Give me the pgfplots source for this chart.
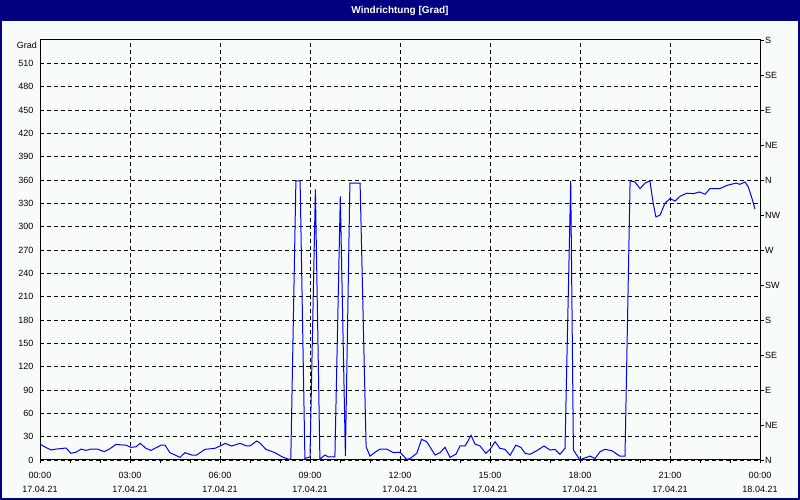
\documentclass[border=0pt]{standalone}
\usepackage{pgfplots}
\pgfplotsset{compat=1.18}
\usepackage{fontspec}
\setmainfont{Liberation Sans}
\definecolor{navy}{HTML}{000080}
\definecolor{bgc}{HTML}{F8FCF8}
\definecolor{lineblue}{HTML}{0000FF}
\begin{document}
\begin{tikzpicture}
\useasboundingbox (0,0) rectangle (800bp,500bp);
\fill[bgc] (0,0) rectangle (800bp,500bp);
\fill[navy] (0,479bp) rectangle (800bp,500bp);
\draw[navy, line width=2bp] (1bp,1bp) rectangle (799bp,499bp);
\node[white, font=\fontsize{10bp}{12bp}\selectfont\bfseries] at (400bp,489.5bp) {Windrichtung [Grad]};
\node[anchor=east, font=\fontsize{9bp}{11bp}\selectfont, inner sep=0pt] at (37bp,455bp) {Grad};
\begin{axis}[
  at={(40bp,40bp)}, anchor=south west,
  scale only axis, width=720bp, height=420bp,
  xmin=0, xmax=24, ymin=0, ymax=540,
  axis line style={black, line width=1bp},
  xtick={0,3,...,24},
  minor xtick={1,2,4,5,7,8,10,11,13,14,16,17,19,20,22,23},
  xticklabels={{00:00\\17.04.21},{03:00\\17.04.21},{06:00\\17.04.21},{09:00\\17.04.21},{12:00\\17.04.21},{15:00\\17.04.21},{18:00\\17.04.21},{21:00\\17.04.21},{00:00\\18.04.21}},
  xticklabel style={align=center, font=\fontsize{9bp}{14bp}\selectfont, yshift=-6bp},
  ytick={0,30,...,510},
  yticklabel style={font=\fontsize{9bp}{11bp}\selectfont},
  /pgf/number format/assume math mode=true,
  xtick pos=bottom, ytick pos=left,
  tick align=outside,
  major tick length=3bp, minor tick length=3bp,
  tick style={black, line width=0.8bp},
  ytick style={draw=none},
  xmajorgrids, ymajorgrids,
  grid style={black, line width=0.8bp, dash pattern=on 4bp off 3bp},
]
\addplot[lineblue, line width=1bp, mark=none] table {
0 20.5
0.2 16
0.37 13
0.53 14
0.87 15.4
1.03 8.6
1.2 10
1.37 14
1.53 12.4
1.7 14
1.92 14
2.14 10.7
2.31 14
2.53 20
2.87 19
3.03 16.3
3.2 17
3.34 21.4
3.53 15
3.7 12.4
4.03 19
4.17 19
4.33 9.4
4.67 3.4
4.83 9.4
5.06 6.4
5.22 6.4
5.5 13.7
5.83 15
6.06 19
6.17 21.4
6.39 18
6.67 21.4
6.89 18
7.0 18
7.22 24.4
7.33 22
7.53 13.7
7.83 9.4
8.06 4.3
8.28 1
8.36 1
8.53 359
8.67 359
8.83 2
9.0 4
9.18 348
9.33 1
9.5 6.4
9.61 4
9.83 4
10.01 339
10.18 5
10.33 356
10.67 356
10.87 17
11.0 5
11.17 10
11.33 14
11.56 14
11.78 9.4
12.0 10
12.22 1
12.33 1.7
12.56 8.6
12.72 26.6
12.89 23.5
13.17 6.4
13.33 9.4
13.5 16.3
13.67 3.4
13.87 7.7
14.0 18
14.17 18
14.37 31.7
14.5 20.5
14.67 18
14.86 8.6
15.0 13.7
15.17 23.5
15.33 15
15.5 13.7
15.67 6
15.86 19
16.03 16.3
16.17 8.6
16.33 7.3
16.56 12
16.8 18
17.0 12.8
17.17 13.7
17.33 7.3
17.5 15
17.69 359
17.78 13
17.89 6.4
18.0 0
18.11 2
18.33 5
18.5 2
18.67 10.7
18.83 13.7
19.06 12
19.33 5
19.5 5
19.67 359
19.83 357.5
20.0 349
20.17 356
20.33 359
20.44 330
20.53 312.5
20.67 315
20.83 330
21.0 336
21.17 333
21.33 339
21.56 343
21.78 342.5
21.98 344.6
22.17 341.7
22.33 349
22.67 349
22.89 353
23.2 356
23.33 354.5
23.5 357.5
23.61 351
23.72 338
23.83 323
};
\end{axis}
\begin{axis}[
  at={(40bp,40bp)}, anchor=south west,
  scale only axis, width=720bp, height=420bp,
  xmin=0, xmax=24, ymin=0, ymax=540,
  axis x line=none, axis y line*=right,
  axis line style={black, line width=1bp, -},
  ytick={0,45,...,540},
  yticklabels={N,NE,E,SE,S,SW,W,NW,N,NE,E,SE,S},
  yticklabel style={font=\fontsize{9bp}{11bp}\selectfont, inner xsep=1bp},
  tick align=outside, major tick length=4bp,
  tick style={black, line width=0.8bp},
]
\end{axis}
\end{tikzpicture}
\end{document}
